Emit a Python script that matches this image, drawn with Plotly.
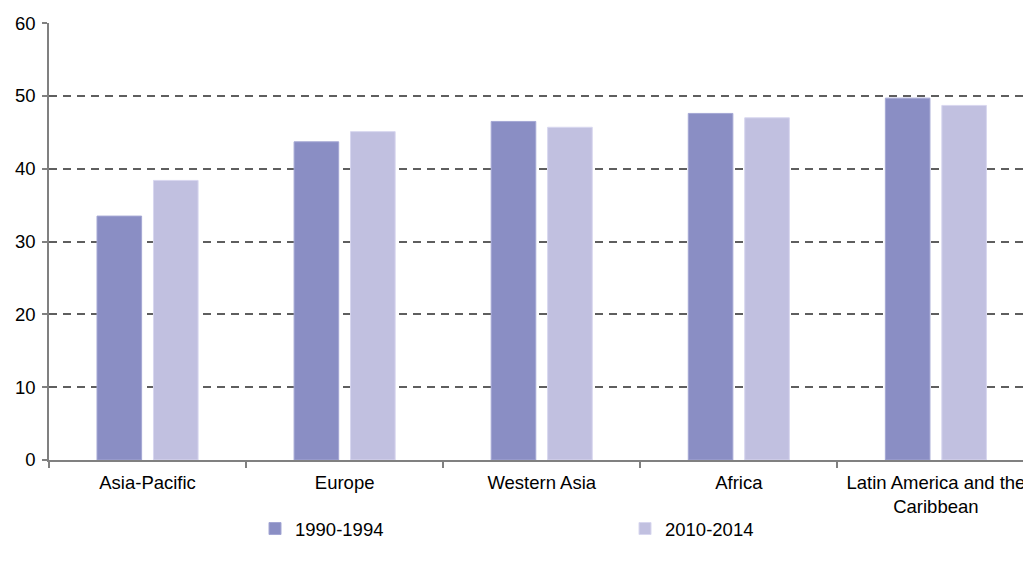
import plotly.graph_objects as go

regions = ["Asia-Pacific", "Europe", "Western Asia", "Africa", "Latin America and the<br>Caribbean"]
period_1990_1994 = [33.5, 43.7, 46.5, 47.6, 49.7]
period_2010_2014 = [38.4, 45.1, 45.7, 47.0, 48.7]
y_ticks = [0, 10, 20, 30, 40, 50, 60]

FONT = "Liberation Sans, Arial, sans-serif"
SIZE = 18.5

fig = go.Figure()
fig.add_trace(go.Bar(
    name="1990-1994", x=regions, y=period_1990_1994,
    marker=dict(color="#8A8EC4", line=dict(color="#A4A7D4", width=1)),
))
fig.add_trace(go.Bar(
    name="2010-2014", x=regions, y=period_2010_2014,
    marker=dict(color="#C1C0E0", line=dict(color="#D8D7EF", width=1)),
))

fig.update_layout(
    width=1023, height=565,
    margin=dict(l=49, r=0, t=23, b=105, autoexpand=False),
    paper_bgcolor="white", plot_bgcolor="white",
    font=dict(family=FONT, size=SIZE, color="#000000"),
    barmode="group", bargap=0.427, bargroupgap=0.21,
    showlegend=True,
    legend=dict(
        orientation="h", xref="container", yref="container",
        x=255 / 1023, xanchor="left", y=1 - 529 / 565, yanchor="middle",
        entrywidth=325, entrywidthmode="pixels",
        font=dict(family=FONT, size=SIZE, color="#000000"),
        bgcolor="rgba(0,0,0,0)",
    ),
)

fig.update_xaxes(
    type="category", range=[-0.5, 4.442], automargin=False,
    showline=True, linecolor="#808080", linewidth=1.5,
    ticks="outside", tickson="boundaries", ticklen=6, tickcolor="#808080", tickwidth=1.5,
    ticklabelstandoff=5,
    showgrid=False, zeroline=False,
    tickfont=dict(family=FONT, size=SIZE, color="#000000"),
)
fig.update_yaxes(
    range=[0, 60.02], tickvals=y_ticks, automargin=False,
    showline=True, linecolor="#808080", linewidth=1.5,
    ticks="outside", ticklen=5, tickcolor="#808080", tickwidth=1.5,
    ticklabelstandoff=3,
    showgrid=True, gridcolor="#5E5E5E", gridwidth=1.8, griddash="8px,6px",
    zeroline=False,
    tickfont=dict(family=FONT, size=SIZE, color="#000000"),
)

fig.write_html("out.html")
